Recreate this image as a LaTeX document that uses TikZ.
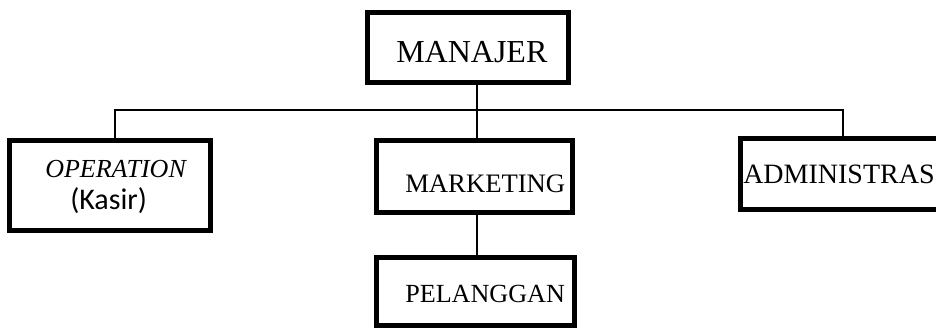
\documentclass[tikz,border=0pt]{standalone}
\usepackage{fontspec}
\setmainfont{Liberation Serif}
\newfontfamily\kasirfont{Carlito}
\usepackage{tikz}
\usetikzlibrary{positioning, calc}

\begin{document}
\begin{tikzpicture}[
      x=0.75pt, y=-0.75pt,
      box/.style={draw, line width=3.75pt, inner sep=0pt},
      txt/.style={inner sep=0pt, anchor=base west, font=\fontsize{20}{24}\selectfont},
      link/.style={line width=1.1pt},
    ]
    \useasboundingbox (0,0) rectangle (936,329);
    \clip (0,0) rectangle (936,329);

    % boxes
    \node[box, minimum width=150.75pt, minimum height=52.5pt] (man) at (468,47.5) {};
    \node[box, minimum width=150.75pt, minimum height=67.5pt] (opr) at (110,185.5) {};
    \node[box, minimum width=147pt, minimum height=54pt] (mkt) at (474.5,176.5) {};
    \node[box, minimum width=148.5pt, minimum height=51pt] (plg) at (475.5,291.5) {};
    \node[box, minimum width=194.6pt, minimum height=53.25pt] (adm) at (870.25,174) {};

    % texts
    \node[txt, font=\fontsize{24}{28}\selectfont] (manT) at (396,62) {MANAJER};
    \node[txt, font=\fontsize{19.5}{24}\selectfont\itshape] (oprT) at (45,177) {OPERATION};
    \node[txt, font=\fontsize{22.5}{26}\selectfont\kasirfont] (ksrT) at (70,209) {(Kasir)};
    \node[txt] (mktT) at (405,192) {MARKETING};
    \node[txt, font=\fontsize{19.6}{24}\selectfont] (plgT) at (405,302) {PELANGGAN};
    \node[txt, font=\fontsize{21}{24}\selectfont] (admT) at (743,183) {ADMINISTRAS};

    % connectors
    \coordinate (bus) at (477,110);
    \coordinate (dropL) at (115,110);
    \coordinate (dropR) at (843,110);
    \draw[link] (dropL |- opr.north) -- (dropL) -- (dropR) -- (dropR |- adm.north);
    \draw[link] (bus |- man.south) -- (bus |- mkt.north);
    \draw[link] (bus |- mkt.south) -- (bus |- plg.north);
\end{tikzpicture}
\end{document}
